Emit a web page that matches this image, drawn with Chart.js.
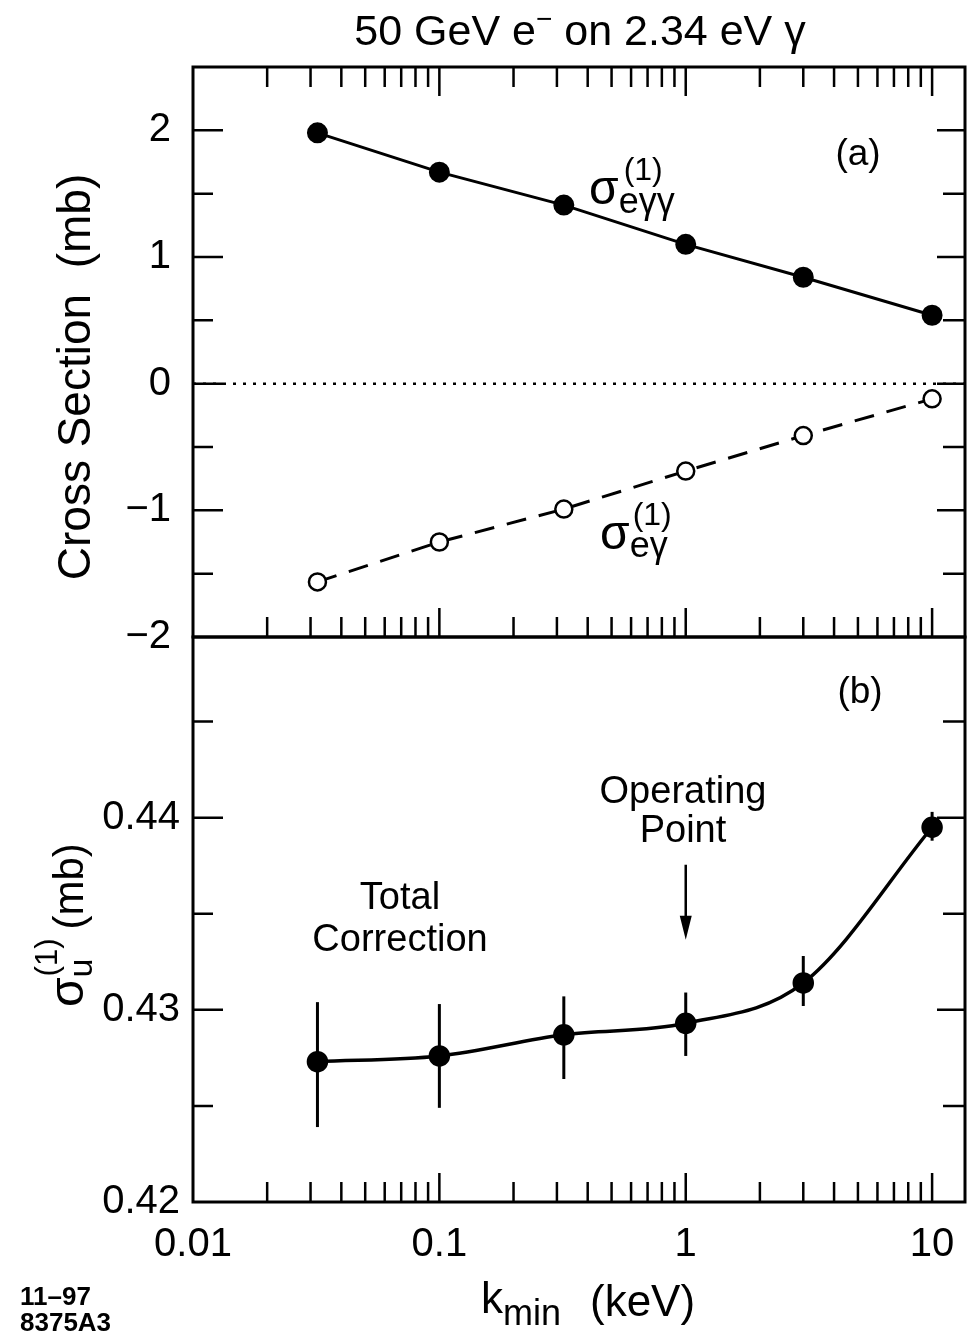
<!DOCTYPE html>
<html><head><meta charset="utf-8">
<script src="https://cdn.jsdelivr.net/npm/chart.js@4.4.0/dist/chart.umd.min.js"></script>
<style>
html,body{margin:0;padding:0;background:#fff;}
#wrap{position:relative;width:967px;height:1332px;overflow:hidden;background:#fff;}
canvas{position:absolute;left:0;top:0;}
</style></head><body>
<div id="wrap"><canvas id="c1" width="967" height="1332"></canvas><canvas id="c2" width="967" height="1332"></canvas></div>
<script>
// ---------- data ----------
const kValues = [0.032, 0.1, 0.32, 1, 3, 10];            // k_min (keV)
const sigmaEgg = [1.98, 1.67, 1.41, 1.10, 0.84, 0.54];  // sigma_e gamma gamma (mb)
const sigmaEg  = [-1.565, -1.25, -0.99, -0.69, -0.41, -0.12]; // sigma_e gamma (mb)
const sigmaU   = [0.4273, 0.4276, 0.4287, 0.4293, 0.4314, 0.4395];
const sigmaUErrLow  = [0.4239, 0.4249, 0.4264, 0.4276, 0.4302, 0.4388];
const sigmaUErrHigh = [0.4304, 0.4303, 0.4307, 0.4309, 0.4328, 0.4403];
const zeroLine = [0, 0];
const xTickValues = [0.01, 0.1, 1, 10];
const xTickLabels = ['0.01', '0.1', '1', '10'];
const yTopTickValues = [-2, -1, 0, 1, 2];
const yTopTickLabels = ['\u22122', '\u22121', '0', '1', '2'];
const yBotTickValues = [0.42, 0.43, 0.44];
const yBotTickLabels = ['0.42', '0.43', '0.44'];
const X_MIN = 0.01, X_MAX = 13.6;
const operatingPoint = 1;

const FONT = "'Liberation Sans', Arial, Helvetica, sans-serif";
Chart.defaults.font.family = FONT;
Chart.defaults.color = '#000';

function labelFor(values, labels, v) {
  for (let i = 0; i < values.length; i++) {
    if (Math.abs(v - values[i]) <= 1e-6 * Math.max(1e-3, Math.abs(values[i]))) return labels[i];
  }
  return '';
}

function frameTicks(opts) {
  return {
    id: 'frameTicks',
    afterDatasetsDraw(chart) {
      const ctx = chart.ctx, a = chart.chartArea;
      const xs = chart.scales.x, ys = chart.scales.y;
      ctx.save();
      ctx.strokeStyle = '#000';
      ctx.lineWidth = 3;
      ctx.strokeRect(a.left, a.top, a.right - a.left, a.bottom - a.top);
      ctx.lineWidth = 2.5;
      for (let e = -2; e <= 1; e++) {
        for (let m = 1; m <= 9; m++) {
          const v = m * Math.pow(10, e);
          if (v <= X_MIN * 1.0001 || v >= X_MAX) continue;
          const px = xs.getPixelForValue(v);
          const len = m === 1 ? 29 : 20;
          ctx.beginPath();
          if (opts.xTop) { ctx.moveTo(px, a.top); ctx.lineTo(px, a.top + len); }
          if (opts.xBottom) { ctx.moveTo(px, a.bottom); ctx.lineTo(px, a.bottom - len); }
          ctx.stroke();
        }
      }
      for (const t of opts.yTicks) {
        const py = ys.getPixelForValue(t.v);
        ctx.beginPath();
        ctx.moveTo(a.left, py); ctx.lineTo(a.left + (t.major ? 30 : 20), py);
        ctx.moveTo(a.right, py); ctx.lineTo(a.right - (t.major ? 28 : 22), py);
        ctx.stroke();
      }
      ctx.restore();
    }
  };
}

function drawSigma(ctx, x, y, sub, sup, s) {
  ctx.font = s.main + 'px ' + FONT;
  ctx.fillText('\u03c3', x, y);
  const w = ctx.measureText('\u03c3').width;
  ctx.font = s.sub + 'px ' + FONT;
  ctx.fillText(sub, x + w + (s.subDx || 0), y + s.subDy);
  ctx.font = s.sup + 'px ' + FONT;
  ctx.fillText(sup, x + w + (s.supDx || 0), y - s.supDy);
  return w;
}

const topText = {
  id: 'topText',
  afterDraw(chart) {
    const ctx = chart.ctx;
    ctx.save();
    ctx.fillStyle = '#000';
    ctx.textBaseline = 'alphabetic';
    ctx.textAlign = 'left';
    const f = 43;
    const p1 = '50 GeV e', p3 = ' on 2.34 eV \u03b3';
    ctx.font = f + 'px ' + FONT;
    const w1 = ctx.measureText(p1).width, w3 = ctx.measureText(p3).width;
    ctx.font = '28px ' + FONT;
    const w2 = ctx.measureText('\u2212').width;
    const total = w1 + w2 + w3;
    let x0 = 580 - total / 2;
    const by = 45;
    ctx.font = f + 'px ' + FONT;
    ctx.fillText(p1, x0, by);
    ctx.font = '28px ' + FONT;
    ctx.fillText('\u2212', x0 + w1, by - 17);
    ctx.font = f + 'px ' + FONT;
    ctx.fillText(p3, x0 + w1 + w2, by);
    ctx.save();
    ctx.translate(90, 377);
    ctx.rotate(-Math.PI / 2);
    ctx.textAlign = 'center';
    ctx.font = '46px ' + FONT;
    ctx.fillText('Cross Section  (mb)', 0, 0);
    ctx.restore();
    ctx.font = '37px ' + FONT;
    ctx.textAlign = 'center';
    ctx.fillText('(a)', 858, 165);
    ctx.textAlign = 'left';
    drawSigma(ctx, 589, 204, 'e\u03b3\u03b3', '(1)', {main: 48, sub: 36, subDy: 9, sup: 32, supDy: 24, supDx: 5});
    drawSigma(ctx, 600, 549, 'e\u03b3', '(1)', {main: 48, sub: 36, subDy: 8, sup: 32, supDy: 24, supDx: 3});
    ctx.restore();
  }
};

const errorBars = {
  id: 'errorBars',
  afterDatasetsDraw(chart) {
    const ctx = chart.ctx, xs = chart.scales.x, ys = chart.scales.y;
    ctx.save();
    ctx.strokeStyle = '#000';
    ctx.lineWidth = 3;
    for (let i = 0; i < kValues.length; i++) {
      const px = xs.getPixelForValue(kValues[i]);
      ctx.beginPath();
      ctx.moveTo(px, ys.getPixelForValue(sigmaUErrHigh[i]));
      ctx.lineTo(px, ys.getPixelForValue(sigmaUErrLow[i]));
      ctx.stroke();
    }
    ctx.restore();
  }
};

const bottomText = {
  id: 'bottomText',
  afterDraw(chart) {
    const ctx = chart.ctx, xs = chart.scales.x, ys = chart.scales.y;
    ctx.save();
    ctx.fillStyle = '#000';
    ctx.strokeStyle = '#000';
    ctx.textBaseline = 'alphabetic';
    ctx.textAlign = 'center';
    ctx.font = '37px ' + FONT;
    ctx.fillText('(b)', 860, 703);
    ctx.font = '38px ' + FONT;
    ctx.fillText('Total', 400, 909);
    ctx.fillText('Correction', 400, 951);
    ctx.fillText('Operating', 683, 803);
    ctx.fillText('Point', 683, 842);
    const ax = xs.getPixelForValue(operatingPoint);
    const yTop = ys.getPixelForValue(0.43755), yTip = ys.getPixelForValue(0.43365);
    ctx.lineWidth = 2.5;
    ctx.beginPath(); ctx.moveTo(ax, yTop); ctx.lineTo(ax, yTip - 10); ctx.stroke();
    ctx.beginPath(); ctx.moveTo(ax, yTip); ctx.lineTo(ax - 6, yTip - 24); ctx.lineTo(ax + 6, yTip - 24); ctx.closePath(); ctx.fill();
    ctx.save();
    ctx.translate(83, 1007);
    ctx.rotate(-Math.PI / 2);
    ctx.textAlign = 'left';
    const w = drawSigma(ctx, 0, 0, 'u', '(1)', {main: 48, sub: 34, subDy: 9, sup: 31, supDy: 26, supDx: 1});
    ctx.font = '31px ' + FONT;
    const wsup = ctx.measureText('(1)').width;
    ctx.font = '42px ' + FONT;
    ctx.fillText('(mb)', w + wsup + 10, 0);
    ctx.restore();
    ctx.textAlign = 'left';
    ctx.font = '44px ' + FONT;
    ctx.fillText('k', 481, 1313);
    const wk = ctx.measureText('k').width;
    ctx.font = '36px ' + FONT;
    ctx.fillText('min', 481 + wk, 1325);
    ctx.font = '44px ' + FONT;
    ctx.fillText('(keV)', 590, 1316);
    ctx.font = 'bold 26px ' + FONT;
    ctx.fillText('11\u201397', 20, 1305);
    ctx.fillText('8375A3', 20, 1331);
    ctx.restore();
  }
};

const yTopTicks = [];
for (let v = -1.5; v <= 2.001; v += 0.5) yTopTicks.push({v: Math.round(v * 10) / 10, major: Math.abs(v - Math.round(v)) < 1e-9});
const yBotTicks = [0.425, 0.43, 0.435, 0.44, 0.445].map(v => ({v, major: Math.abs(v * 100 - Math.round(v * 100)) < 1e-6}));

new Chart(document.getElementById('c1'), {
  type: 'line',
  data: {
    datasets: [
      {data: kValues.map((k, i) => ({x: k, y: sigmaEgg[i]})), borderColor: '#000', borderWidth: 3,
       pointRadius: 9, pointBackgroundColor: '#000', pointBorderColor: '#000', tension: 0},
      {data: kValues.map((k, i) => ({x: k, y: sigmaEg[i]})), borderColor: '#000', borderWidth: 3, borderDash: [20, 13],
       pointRadius: 8.5, pointBackgroundColor: '#fff', pointBorderColor: '#000', pointBorderWidth: 2.5, tension: 0},
      {data: [{x: X_MIN, y: zeroLine[0]}, {x: X_MAX, y: zeroLine[1]}], borderColor: '#000', borderWidth: 2.5,
       borderDash: [3, 7], pointRadius: 0}
    ]
  },
  options: {
    responsive: false, animation: false, events: [],
    layout: {autoPadding: false, padding: {left: 0, right: 2, top: 67, bottom: 1332 - 637}},
    plugins: {legend: {display: false}, tooltip: {enabled: false}},
    scales: {
      x: {type: 'logarithmic', min: X_MIN, max: X_MAX, display: false},
      y: {type: 'linear', min: -2, max: 2.5, afterFit: s => { s.width = 193; },
          grid: {display: false, drawTicks: false}, border: {display: false},
          ticks: {stepSize: 0.5, autoSkip: false, padding: 22, color: '#000', font: {size: 40},
                  callback: v => labelFor(yTopTickValues, yTopTickLabels, v)}}
    }
  },
  plugins: [frameTicks({xTop: true, xBottom: true, yTicks: yTopTicks}), topText]
});

new Chart(document.getElementById('c2'), {
  type: 'line',
  data: {
    datasets: [
      {data: kValues.map((k, i) => ({x: k, y: sigmaU[i]})), borderColor: '#000', borderWidth: 3.5,
       cubicInterpolationMode: 'monotone', pointRadius: 9, pointBackgroundColor: '#000', pointBorderColor: '#000'}
    ]
  },
  options: {
    responsive: false, animation: false, events: [],
    layout: {autoPadding: false, padding: {left: 0, right: 2, top: 637, bottom: 0}},
    plugins: {legend: {display: false}, tooltip: {enabled: false}},
    scales: {
      x: {type: 'logarithmic', min: X_MIN, max: X_MAX,
          afterFit: s => { s.height = 130; s.paddingLeft = 0; s.paddingRight = 0; },
          grid: {display: false, drawTicks: false}, border: {display: false},
          ticks: {autoSkip: false, maxRotation: 0, minRotation: 0, padding: 19, color: '#000', font: {size: 40},
                  callback: v => labelFor(xTickValues, xTickLabels, v)}},
      y: {type: 'linear', min: 0.42, max: 0.4494,
          afterFit: s => { s.width = 193; s.paddingTop = 0; s.paddingBottom = 0; },
          grid: {display: false, drawTicks: false}, border: {display: false},
          ticks: {stepSize: 0.005, autoSkip: false, padding: 13, color: '#000', font: {size: 40},
                  callback: v => labelFor(yBotTickValues, yBotTickLabels, v)}}
    }
  },
  plugins: [frameTicks({xTop: false, xBottom: true, yTicks: yBotTicks}), errorBars, bottomText]
});
</script>
</body></html>
